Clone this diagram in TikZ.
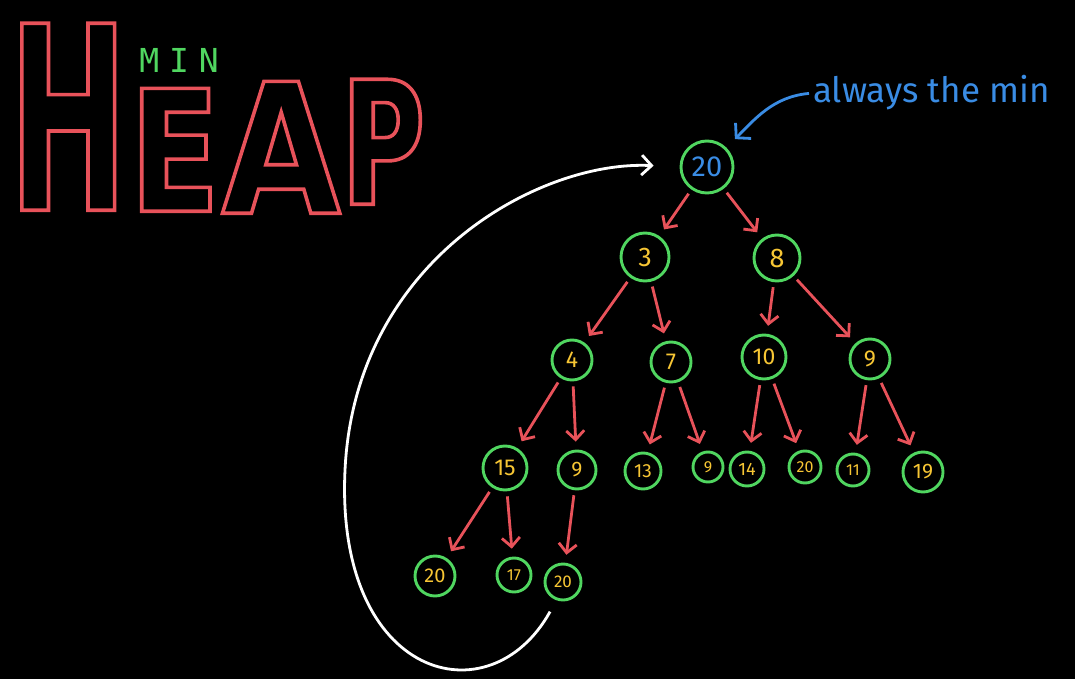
\documentclass[tikz,border=0pt]{standalone}
\usepackage{fontspec}
\usepackage{tikz}
\usetikzlibrary{arrows.meta,positioning}
\setmainfont{Fira Sans}
\newfontfamily\heapfont{DejaVu Sans}
\newfontfamily\minfont[LetterSpace=30]{DejaVu Sans Mono}
\definecolor{hgreen}{RGB}{80,214,96}
\definecolor{hred}{RGB}{232,82,90}
\definecolor{hyellow}{RGB}{247,198,52}
\definecolor{hblue}{RGB}{58,140,228}
% stroked (hollow) letters
\newcommand{\hollowtext}[1]{\special{pdf:code q 1 Tr 3.6 w}#1\special{pdf:code Q}}

\begin{document}
\begin{tikzpicture}[x=1pt,y=-1pt]
\tikzstyle{keynode} = [circle, draw=hgreen, line width=2.9pt, text=hyellow, inner sep=0pt, minimum size=#1pt];%
\tikzstyle{fsize} = [font=\fontsize{#1}{#1}\selectfont];%
\tikzstyle{link} = [draw=hred, line width=2.8pt, -{Straight Barb[length=9pt,width=18pt]}, shorten <=5pt, shorten >=8pt];%
\tikzstyle{letter} = [anchor=south west, inner sep=0pt, text=hred];%

\fill[black] (0,0) rectangle (1075,679);
\useasboundingbox (0,0) rectangle (1075,679);

% title
\node at (8.6,210.5) [letter, font=\heapfont\bfseries\fontsize{256.5}{256.5}\selectfont\addfontfeature{FakeStretch=0.554}] (hH) {\hollowtext{H}};
\node at (129.5,211.5) [letter, font=\heapfont\bfseries\fontsize{168.7}{168.7}\selectfont\addfontfeature{FakeStretch=0.78}] (hE) {\hollowtext{E}};
\node at (221.5,213.5) [letter, font=\heapfont\bfseries\fontsize{181}{181}\selectfont\addfontfeature{FakeStretch=0.849}] (hA) {\hollowtext{A}};
\node at (341.1,204.5) [letter, font=\heapfont\bfseries\fontsize{171.5}{171.5}\selectfont\addfontfeature{FakeStretch=0.666}] (hP) {\hollowtext{P}};
\node at (179,60) [text=hgreen, font=\minfont\fontsize{33}{33}\selectfont] (min) {MIN};
\node at (813,103) [anchor=base west, inner sep=0pt, text=hblue, fsize=35] (always) {always the min};

% heap
\node at (707,167) [keynode=52, fsize=29, text=hblue] (n20) {20};
\node at (645,257) [keynode=48, fsize=27] (n3) {3};
\node at (777,258) [keynode=46, fsize=27] (n8) {8};
\node at (572,360) [keynode=40, fsize=23] (n4) {4};
\node at (671,362) [keynode=40, fsize=23] (n7) {7};
\node at (764,357) [keynode=44, fsize=23] (n10) {10};
\node at (870,359) [keynode=40, fsize=23] (n9a) {9};
\node at (505,468) [keynode=44, fsize=23] (n15) {15};
\node at (577,470) [keynode=38, fsize=21] (n9b) {9};
\node at (643,471) [keynode=36, fsize=19] (n13) {13};
\node at (708,467) [keynode=30, fsize=16] (n9c) {9};
\node at (747,469) [keynode=34, fsize=18] (n14) {14};
\node at (805,467) [keynode=32, fsize=16] (n20b) {20};
\node at (853,470) [keynode=32, fsize=16] (n11) {11};
\node at (923,472) [keynode=40, fsize=21] (n19) {19};
\node at (435,576) [keynode=40, fsize=20] (n20c) {20};
\node at (514,575) [keynode=34, fsize=16] (n17) {17};
\node at (563,582) [keynode=36, fsize=17] (n20d) {20};

\path (n20)  edge[link] (n3) ;
\path (n20)  edge[link] (n8) ;
\path (n3)  edge[link] (n4) ;
\path (n3)  edge[link] (n7) ;
\path (n8)  edge[link] (n10) ;
\path (n8)  edge[link] (n9a) ;
\path (n4)  edge[link] (n15) ;
\path (n4)  edge[link] (n9b) ;
\path (n7)  edge[link] (n13) ;
\path (n7)  edge[link] (n9c) ;
\path (n10)  edge[link] (n14) ;
\path (n10)  edge[link] (n20b) ;
\path (n9a)  edge[link] (n11) ;
\path (n9a)  edge[link] (n19) ;
\path (n15)  edge[link] (n20c) ;
\path (n15)  edge[link] (n17) ;
\path (n9b)  edge[link] (n20d) ;

% pointers
\draw[hblue, line width=2.8pt, -{Straight Barb[length=10pt,width=22pt]}, shorten <=4pt, shorten >=12pt]
  (always.west) to[out=185, in=45] (n20.north east);
\draw[white, line width=2.8pt, -{Straight Barb[length=10pt,width=20pt]}, shorten <=13pt, shorten >=26pt]
  (n20d.-110) .. controls (490,720) and (335,680) .. (345,470)
  .. controls (355,260) and (540,160) .. (n20.west);

\end{tikzpicture}
\end{document}
